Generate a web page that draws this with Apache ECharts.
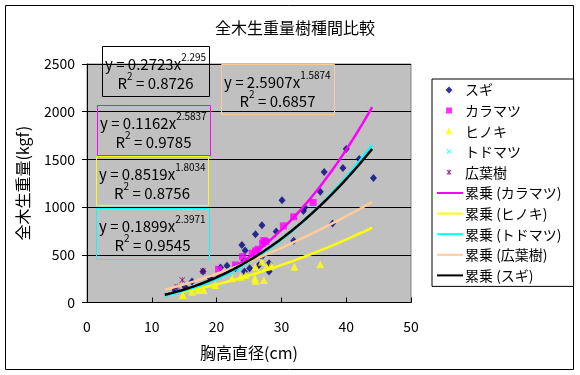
<!DOCTYPE html>
<html><head><meta charset="utf-8">
<script src="https://cdn.jsdelivr.net/npm/echarts@6/dist/echarts.min.js"></script>
<style>html,body{margin:0;padding:0;background:#fff}#c{width:580px;height:375px}</style>
</head><body><div id="c"></div>
<script>
// ---- data ----
const sugi = [[13.6,131],[15.1,166],[16.2,219],[17.9,324],[19.0,254],[20.6,366],[21.6,386],[22.9,359],[23.9,604],[24.4,544],[24.2,436],[24.3,324],[25.1,359],[26.0,716],[26.5,391],[27.0,810],[27.0,481],[28.1,324],[28.1,411],[29.2,744],[30.1,1073],[31.9,646],[33.4,958],[33.6,995],[36.0,1160],[36.6,1367],[37.9,828],[39.5,1409],[40.0,1608],[42.0,1503],[44.2,1304]];
const karamatsu = [[20.3,348],[22.9,394],[24.0,481],[25.5,516],[26.0,541],[26.4,558],[27.1,622],[27.3,649],[27.6,640],[30.3,803],[31.9,898],[34.9,1048]];
const hinoki = [[14.8,79],[16.2,113],[17.2,131],[18.0,131],[19.8,184],[22.4,254],[23.7,271],[24.5,289],[25.9,254],[26.0,376],[26.0,229],[27.0,428],[27.3,236],[27.7,376],[28.4,390],[32.0,376],[36.0,401]];
const todomatsu = [[12.3,79],[14.0,115],[16.0,150],[18.5,200],[20.5,260],[22.0,300],[23.5,340]];
const kouyouju = [[13.9,166],[14.7,236],[17.9,331]];

// power-law trendlines shown on the chart: y = a * x^b
const fitNames = ['累乗 (カラマツ)','累乗 (ヒノキ)','累乗 (トドマツ)','累乗 (広葉樹)','累乗 (スギ)'];
const fitA = ['0.1162','0.8519','0.1899','2.5907','0.2723'];
const fitB = ['2.5837','1.8034','2.3971','1.5874','2.295'];
const fitR2 = ['0.9785','0.8756','0.9545','0.6857','0.8726'];
const fitXMin = [20, 14.5, 12, 12, 12];
const fitXMax = [44, 44, 44, 44, 44];
const fitColors = ['#FF00FF','#FFFF00','#00FFFF','#FFCC99','#000000'];

const xTicks = [0,10,20,30,40,50];
const yTicks = [0,500,1000,1500,2000,2500];

const FONT = "'Noto Sans CJK JP', sans-serif";
const chart = echarts.init(document.getElementById('c'), null, {renderer:'canvas'});

function fitLine(i){
  const a = parseFloat(fitA[i]), b = parseFloat(fitB[i]);
  const pts = [];
  for (let x = fitXMin[i]; x <= fitXMax[i] + 1e-9; x += 0.5) pts.push([x, a*Math.pow(x, b)]);
  return pts;
}
const crossPath = 'path://M0,1L1,0L5,4L9,0L10,1L6,5L10,9L9,10L5,6L1,10L0,9L4,5Z';
const starPath = 'path://M0,1L1,0L5,4L9,0L10,1L6,5L10,9L9,10L5,6L1,10L0,9L4,5Z M4.4,0L5.6,0L5.6,10L4.4,10Z';

// legend icons: 26x14 box (tiny corner anchors keep the box size), small symbol centred
const ANCH = 'M0,0L0.01,0L0,0.01Z M26,14L25.99,14L26,13.99Z ';
const legIcons = [
  'path://' + ANCH + 'M12,3.5L15.5,7L12,10.5L8.5,7Z',
  'path://' + ANCH + 'M9,4L15,4L15,10L9,10Z',
  'path://' + ANCH + 'M12,3L15.5,10L8.5,10Z',
  'path://' + ANCH + 'M9.5,5L10.2,4.3L12,6.1L13.8,4.3L14.5,5L12.7,6.8L14.5,8.6L13.8,9.3L12,7.5L10.2,9.3L9.5,8.6L11.3,6.8Z',
  'path://' + ANCH + 'M9.5,5L10.2,4.3L12,6.1L13.8,4.3L14.5,5L12.7,6.8L14.5,8.6L13.8,9.3L12,7.5L10.2,9.3L9.5,8.6L11.3,6.8Z M11.5,4L12.5,4L12.5,9.6L11.5,9.6Z'
];

const scatterDefs = [
  {name:'スギ', data:sugi, symbol:'diamond', size:[7,8], color:'#000080'},
  {name:'カラマツ', data:karamatsu, symbol:'rect', size:7, color:'#FF00FF'},
  {name:'ヒノキ', data:hinoki, symbol:'triangle', size:8, color:'#FFFF00'},
  {name:'トドマツ', data:todomatsu, symbol:crossPath, size:5, color:'#00FFFF'},
  {name:'広葉樹', data:kouyouju, symbol:starPath, size:6, color:'#800080'}
];
const series = [];
scatterDefs.forEach(d => series.push({type:'scatter', name:d.name, data:d.data, symbol:d.symbol, symbolSize:d.size, itemStyle:{color:d.color}, z:3}));
fitNames.forEach((n,i) => series.push({type:'line', name:n, data:fitLine(i), showSymbol:false, symbol:'none', smooth:false, lineStyle:{color:fitColors[i], width:2.5}, itemStyle:{color:fitColors[i]}, z:4}));

const legendData = scatterDefs.map((d,i) => ({name:d.name, icon:legIcons[i]}))
  .concat(fitNames.map(n => ({name:n, itemStyle:{opacity:0}})));

// equation boxes (annotation positions)
const boxes = [
  {i:4, x:102, y:46, w:107, h:50, color:'#000000'},
  {i:3, x:221, y:64, w:113, h:50, color:'#FFCC99'},
  {i:0, x:97, y:105, w:113, h:50, color:'#FF00FF'},
  {i:1, x:96, y:156, w:112, h:49, color:'#FFFF00'},
  {i:2, x:96, y:208, w:113, h:51, color:'#00FFFF'}
];
const graphics = [{type:'rect', shape:{x:5.5,y:5.5,width:568,height:364}, style:{fill:'none', stroke:'#000', lineWidth:1}, silent:true, z:0}];
const rich = {m:{fontSize:15, fontFamily:FONT, lineHeight:20, verticalAlign:'bottom'}, s:{fontSize:10, fontFamily:FONT, lineHeight:20, verticalAlign:'top'}};
boxes.forEach(b => {
  graphics.push({type:'rect', shape:{x:b.x+0.5, y:b.y+0.5, width:b.w, height:b.h}, style:{fill:'none', stroke:b.color, lineWidth:1}, z:10, silent:true});
  graphics.push({type:'text', x:b.x+3, y:b.y+6, z:10, silent:true, style:{text:'{m|y = '+fitA[b.i]+'x}{s|'+fitB[b.i]+'}', rich:rich, fill:'#000'}});
  graphics.push({type:'text', x:b.x+b.w/2, y:b.y+25, z:10, silent:true, style:{text:'{m|R}{s|2}{m| = '+fitR2[b.i]+'}', rich:rich, fill:'#000', align:'center'}});
});

chart.setOption({
  animation:false,
  backgroundColor:'#ffffff',
  title:{text:'全木生重量樹種間比較', left:290, textAlign:'center', top:15, textStyle:{fontFamily:FONT, fontSize:16, fontWeight:'normal', color:'#000'}},
  grid:{left:87, right:169, top:64, bottom:72.5, show:true, backgroundColor:'#C0C0C0', borderColor:'#808080', borderWidth:1},
  legend:{orient:'vertical', left:432, top:79, padding:[4,12,4,4], itemGap:6.6, itemWidth:26, itemHeight:14,
    borderColor:'#000', borderWidth:1, backgroundColor:'#fff',
    textStyle:{fontFamily:FONT, fontSize:14, lineHeight:14, color:'#000', padding:[0,0,0,-3]},
    data:legendData},
  xAxis:{type:'value', min:0, max:50, interval:10, name:'胸高直径(cm)', nameLocation:'middle', nameGap:42,
    nameTextStyle:{fontFamily:FONT, fontSize:16, color:'#000'},
    axisLine:{show:true, lineStyle:{color:'#000'}}, axisTick:{show:true, inside:true, length:5, lineStyle:{color:'#000'}},
    axisLabel:{fontFamily:FONT, fontSize:14, color:'#000', margin:17, formatter:v=>xTicks.includes(v)?String(v):''}, splitLine:{show:false}},
  yAxis:{type:'value', min:0, max:2500, interval:500, name:'全木生重量(kgf)', nameLocation:'middle', nameGap:56, nameRotate:90,
    nameTextStyle:{fontFamily:FONT, fontSize:16, color:'#000'},
    axisLine:{show:true, lineStyle:{color:'#000'}}, axisTick:{show:true, length:5, lineStyle:{color:'#000'}},
    axisLabel:{fontFamily:FONT, fontSize:14, color:'#000', margin:12, formatter:v=>yTicks.includes(v)?String(v):''},
    splitLine:{show:true, lineStyle:{color:'#000', width:1}}},
  series:series,
  graphic:graphics
});
</script></body></html>
